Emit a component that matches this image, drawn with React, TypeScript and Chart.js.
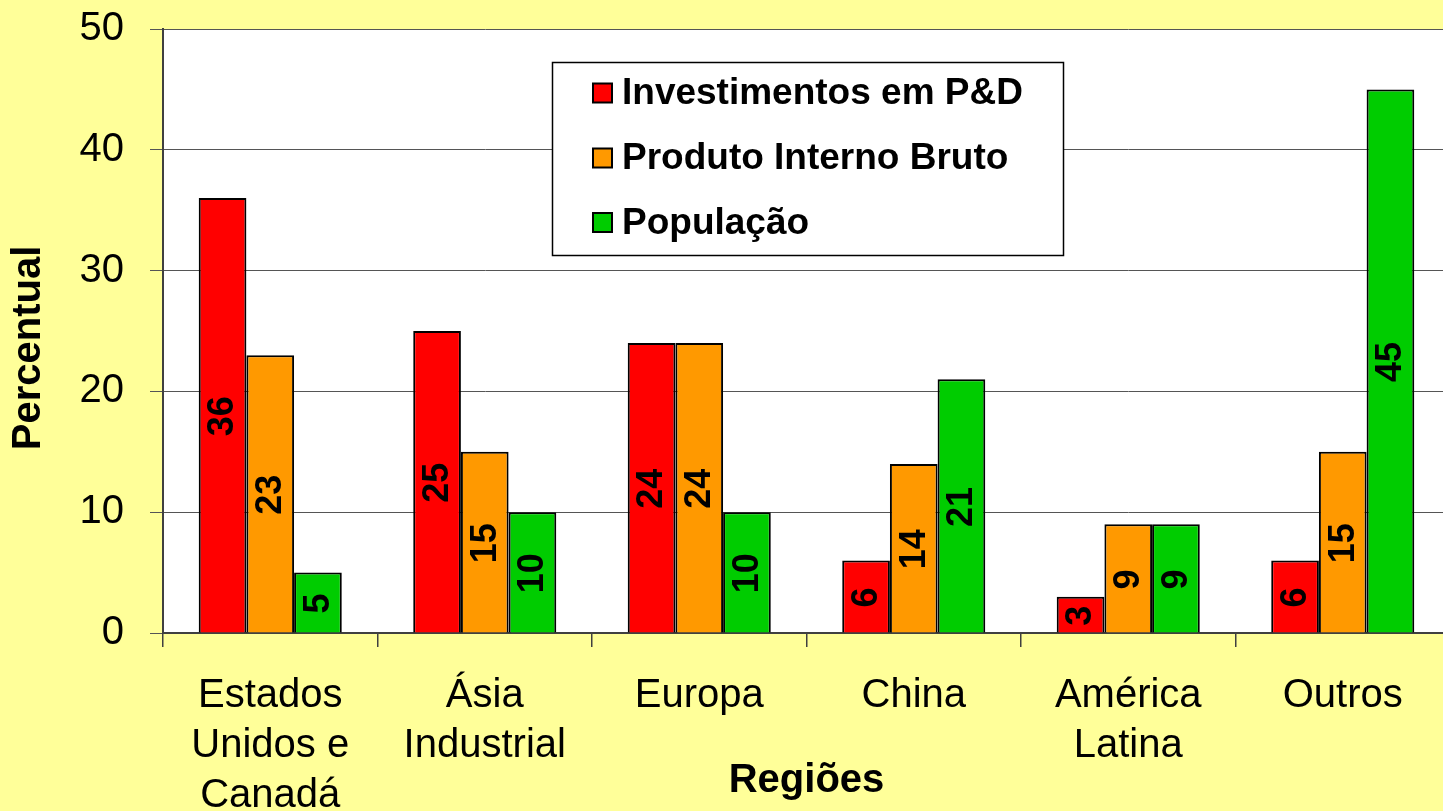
import React, { useEffect, useRef } from "react";
import { Chart, registerables } from "chart.js";

Chart.register(...registerables);

const categories: string[][] = [
  ["Estados", "Unidos e", "Canadá"],
  ["Ásia", "Industrial"],
  ["Europa"],
  ["China"],
  ["América", "Latina"],
  ["Outros"],
];
const investimentos = [36, 25, 24, 6, 3, 6];
const pib = [23, 15, 24, 14, 9, 15];
const populacao = [5, 10, 10, 21, 9, 45];
const seriesNames = ["Investimentos em P&D", "Produto Interno Bruto", "População"];
const seriesColors = ["#FF0000", "#FF9900", "#00CC00"];
const yMin = 0;
const yMax = 50;
const yStep = 10;
const yTitle = "Percentual";
const xTitle = "Regiões";

const FONT = "'Liberation Sans', Arial, sans-serif";

const backgroundPlugin = {
  id: "bgPlot",
  beforeDraw(chart: any) {
    const { ctx, chartArea } = chart;
    ctx.save();
    ctx.fillStyle = "#FFFF99";
    ctx.fillRect(0, 0, chart.width, chart.height);
    ctx.fillStyle = "#FFFFFF";
    ctx.fillRect(chartArea.left, chartArea.top, chartArea.right - chartArea.left, chartArea.bottom - chartArea.top);
    ctx.restore();
  },
};

const barLabelPlugin = {
  id: "barLabels",
  afterDatasetsDraw(chart: any) {
    const { ctx } = chart;
    ctx.save();
    ctx.font = `bold 36px ${FONT}`;
    ctx.fillStyle = "#000000";
    ctx.textAlign = "center";
    ctx.textBaseline = "middle";
    chart.data.datasets.forEach((ds: any, di: number) => {
      const meta = chart.getDatasetMeta(di);
      meta.data.forEach((el: any, i: number) => {
        const v = ds.data[i];
        const cy = (el.y + el.base) / 2;
        ctx.save();
        ctx.translate(el.x, cy + 1);
        ctx.rotate(-Math.PI / 2);
        ctx.fillText(String(v), 0, 1);
        ctx.restore();
      });
    });
    ctx.restore();
  },
};

const yTitlePlugin = {
  id: "yTitle",
  afterDraw(chart: any) {
    const { ctx, chartArea } = chart;
    ctx.save();
    ctx.font = `bold 40px ${FONT}`;
    ctx.fillStyle = "#000000";
    ctx.textAlign = "center";
    ctx.textBaseline = "middle";
    ctx.translate(29, (chartArea.top + chartArea.bottom) / 2 + 17);
    ctx.rotate(-Math.PI / 2);
    ctx.fillText(yTitle, 0, 0);
    ctx.restore();
  },
};

const legendPlugin = {
  id: "customLegend",
  afterDraw(chart: any) {
    const { ctx } = chart;
    const bx = 552, by = 62, bw = 511, bh = 193;
    ctx.save();
    ctx.fillStyle = "#FFFFFF";
    ctx.fillRect(bx, by, bw, bh);
    ctx.strokeStyle = "#000000";
    ctx.lineWidth = 1.5;
    ctx.strokeRect(bx + 0.5, by + 0.5, bw, bh);
    ctx.font = `bold 37px ${FONT}`;
    ctx.textAlign = "left";
    ctx.textBaseline = "middle";
    const rows = [93, 158, 222.5];
    seriesNames.forEach((name, i) => {
      const cy = rows[i];
      ctx.fillStyle = seriesColors[i];
      ctx.fillRect(593, cy - 9.5, 19, 19);
      ctx.strokeStyle = "#000000";
      ctx.lineWidth = 2;
      ctx.strokeRect(593, cy - 9.5, 19, 19);
      ctx.fillStyle = "#000000";
      ctx.fillText(name, 622, cy + 1);
    });
    ctx.restore();
  },
};

export default function App() {
  const ref = useRef<HTMLCanvasElement | null>(null);

  useEffect(() => {
    if (!ref.current) return;
    const chart = new Chart(ref.current, {
      type: "bar",
      data: {
        labels: categories as any,
        datasets: [
          { label: seriesNames[0], data: investimentos, backgroundColor: seriesColors[0] },
          { label: seriesNames[1], data: pib, backgroundColor: seriesColors[1] },
          { label: seriesNames[2], data: populacao, backgroundColor: seriesColors[2] },
        ].map((d) => ({
          ...d,
          borderColor: "#000000",
          borderWidth: 2,
          categoryPercentage: 0.667,
          barPercentage: 1.0,
        })),
      },
      options: {
        responsive: false,
        animation: false,
        devicePixelRatio: 1,
        layout: { padding: { top: 29, right: 2, left: 0, bottom: 0 } },
        plugins: {
          legend: { display: false },
          tooltip: { enabled: false },
        },
        scales: {
          x: {
            type: "category",
            offset: true,
            grid: {
              display: true,
              drawOnChartArea: false,
              drawTicks: true,
              tickLength: 14,
              color: "#404040",
              lineWidth: 1.5,
              offset: true,
            },
            border: { display: true, color: "#404040", width: 2 },
            ticks: {
              color: "#000000",
              font: { family: FONT, size: 40, lineHeight: 1.25 },
              padding: 24,
              maxRotation: 0,
              autoSkip: false,
            },
            title: {
              display: true,
              text: xTitle,
              color: "#000000",
              font: { family: FONT, size: 40, weight: "bold", lineHeight: 1.2 },
              padding: { top: 0, bottom: 6 },
            },
            afterFit(scale: any) {
              scale.height = 178;
              scale.paddingLeft = 0;
              scale.paddingRight = 0;
            },
          },
          y: {
            min: yMin,
            max: yMax,
            ticks: {
              stepSize: yStep,
              color: "#000000",
              font: { family: FONT, size: 40 },
              padding: 26,
            },
            grid: {
              color: "#555555",
              lineWidth: 1,
              tickLength: 13,
              drawTicks: true,
            },
            border: { display: true, color: "#404040", width: 2 },
            afterFit(scale: any) {
              scale.width = 163;
              scale.paddingTop = 0;
              scale.paddingBottom = 0;
            },
          },
        },
      },
      plugins: [backgroundPlugin, barLabelPlugin, yTitlePlugin, legendPlugin],
    } as any);
    return () => chart.destroy();
  }, []);

  return (
    <div
      style={{
        position: "fixed",
        left: 0,
        top: 0,
        width: 1443,
        height: 811,
        overflow: "hidden",
        background: "#FFFF99",
      }}
    >
      <canvas ref={ref} width={1452} height={811} style={{ display: "block" }} />
    </div>
  );
}
